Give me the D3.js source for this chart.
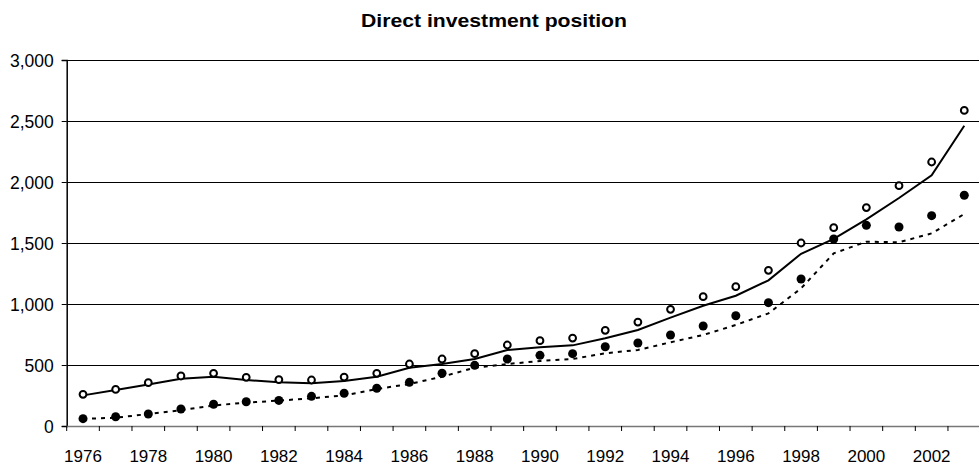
<!DOCTYPE html>
<html><head><meta charset="utf-8">
<script src="https://cdn.jsdelivr.net/npm/d3@7"></script>
<style>body{margin:0;background:#fff}svg{display:block}text{font-family:"Liberation Sans",Arial,sans-serif}</style>
</head><body><svg id="c" width="979" height="466"></svg>
<script>
const years = [1976,1977,1978,1979,1980,1981,1982,1983,1984,1985,1986,1987,1988,1989,1990,1991,1992,1993,1994,1995,1996,1997,1998,1999,2000,2001,2002,2003];
const openDots = [260,300,355,410,432,399,380,377,401,432,508,549,593,664,699,721,784,852,956,1060,1142,1276,1500,1626,1790,1970,2164,2587];
const filledDots = [60,76,98,139,178,199,210,243,268,309,358,432,497,549,579,593,650,680,746,820,904,1011,1205,1533,1645,1631,1724,1891];
const solidLine = [251,295,341,388,404,377,358,350,369,404,478,508,549,623,645,661,719,787,888,986,1068,1194,1412,1533,1694,1869,2055,2461];
const dashedLine = [58,68,98,130,168,192,208,227,251,303,344,404,478,508,533,549,596,623,686,746,828,923,1128,1415,1511,1506,1579,1738];
const yTicks = [0,500,1000,1500,2000,2500,3000];
const title = "Direct investment position";

(function(){
const svg = d3.select("#c");
const mLeft = 66.7, mRight = 980.6, mTop = 60, mBottom = 426;
const x = d3.scaleBand().domain(years).range([mLeft, mRight]).paddingInner(0).paddingOuter(0);
const y = d3.scaleLinear().domain([0,3000]).range([mBottom, mTop]);
const cx = d => x(d) + x.bandwidth()/2;

svg.append("text").attr("x", 494).attr("y", 27).attr("text-anchor","middle")
  .attr("font-size", 19).attr("font-weight","bold")
  .attr("textLength", 266).attr("lengthAdjust","spacingAndGlyphs").text(title);

// gridlines
svg.append("g").selectAll("line").data(yTicks.filter(v=>v>0)).join("line")
  .attr("x1", mLeft).attr("x2", 979).attr("y1", d=>Math.round(y(d))+0.5).attr("y2", d=>Math.round(y(d))+0.5)
  .attr("stroke","#000").attr("stroke-width",1);

// y axis
const yAxis = d3.axisLeft(y).tickValues(yTicks).tickSize(5).tickPadding(8).tickFormat(d3.format(","));
const gy = svg.append("g").attr("transform", `translate(${mLeft},0)`).call(yAxis);
gy.attr("font-size", null).attr("font-family", null);
gy.select(".domain").attr("stroke","#000").attr("stroke-width",1.5);
gy.selectAll(".tick line").attr("stroke","#000");
gy.selectAll("text").attr("font-size",17.5).attr("fill","#000").attr("dy","0.36em");

// x axis: ticks at category boundaries
const gx = svg.append("g").attr("transform", `translate(0,${mBottom})`);
gx.append("line").attr("x1", mLeft).attr("x2", 979).attr("y1",0.5).attr("y2",0.5).attr("stroke","#777").attr("stroke-width",1.5);
gx.selectAll("line.tk").data(years).join("line").attr("class","tk")
  .attr("x1", d=>x(d)+x.bandwidth()).attr("x2", d=>x(d)+x.bandwidth()).attr("y1",0).attr("y2",5)
  .attr("stroke","#000");
gx.append("line").attr("x1",mLeft).attr("x2",mLeft).attr("y1",0).attr("y2",5).attr("stroke","#000");
gx.selectAll("text").data(years.filter(d=>d%2===0)).join("text")
  .attr("x", d=>cx(d)).attr("y", 35.5).attr("text-anchor","middle").attr("font-size",17).text(d=>d);

// lines
const line = d3.line().x((d,i)=>cx(years[i])).y(d=>y(d));
svg.append("path").attr("d", line(dashedLine)).attr("fill","none").attr("stroke","#000")
  .attr("stroke-width",2).attr("stroke-dasharray","4,5");
svg.append("path").attr("d", line(solidLine)).attr("fill","none").attr("stroke","#000").attr("stroke-width",2);

// dots
svg.append("g").selectAll("circle").data(filledDots).join("circle")
  .attr("cx",(d,i)=>cx(years[i])).attr("cy",d=>y(d)).attr("r",4.5).attr("fill","#000");
svg.append("g").selectAll("circle").data(openDots).join("circle")
  .attr("cx",(d,i)=>cx(years[i])).attr("cy",d=>y(d)).attr("r",3.4).attr("fill","#fff").attr("stroke","#000").attr("stroke-width",2);
})();
</script></body></html>
